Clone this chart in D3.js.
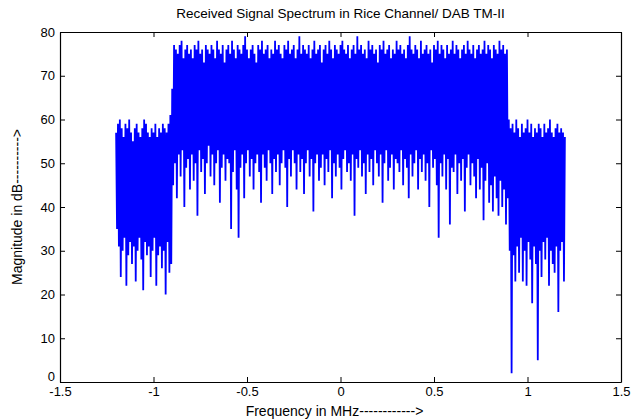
<!DOCTYPE html>
<html><head><meta charset="utf-8">
<script src="https://cdn.jsdelivr.net/npm/d3@7"></script>
<style>
html,body{margin:0;padding:0;background:#fff;}
svg text{font-family:"Liberation Sans",Arial,sans-serif;fill:#000;}
</style></head>
<body>
<svg id="chart" width="644" height="420"></svg>
<script>
// ---- data ----
const title = "Received Signal Spectrum in Rice Channel/ DAB TM-II";
const xLabel = "Frequency in MHz------------>";
const yLabel = "Magnitude in dB---------->";
const xTicks = [-1.5, -1, -0.5, 0, 0.5, 1, 1.5];
const xTickLabels = ["-1.5", "-1", "-0.5", "0", "0.5", "1", "1.5"];
const yTicks = [0, 10, 20, 30, 40, 50, 60, 70, 80];
const freqStart = -1.2;   // MHz, first FFT bin shown
const binStep = 0.005;    // MHz between successive samples
// local maxima of the spectrum (every other bin, starting at -1.2 MHz)
const peaks = [
 57,59,60,58,56,59,58,60,57,55,58,59,57,56,58,60,59,57,56,58,57,59,56,58,57,59,58,57,59,
 61,67,
 77,76,75,77,78,74,76,77,75,76,
 74,77,76,78,75,76,73,77,76,75,
 77,76,74,78,76,75,77,73,76,77,
 75,78,76,74,77,76,75,77,79,76,
 74,76,77,75,73,77,76,78,75,76,
 77,74,76,75,78,76,77,75,74,77,
 76,78,75,76,77,74,76,79,75,77,
 76,75,77,74,76,78,75,76,77,73,
 76,77,75,78,76,74,77,76,75,77,
 78,76,75,77,74,76,77,75,79,76,
 77,75,76,74,78,76,77,75,76,73,
 77,76,78,75,76,77,74,76,75,78,
 76,77,75,76,74,77,79,76,75,77,
 76,74,78,75,76,77,75,76,73,77,
 76,78,75,77,76,74,77,75,76,78,
 75,77,76,74,76,77,75,78,76,75,
 77,74,76,77,75,76,78,75,77,76,
 74,77,76,75,78,76,77,75,76,
 60,58,59,57,60,58,56,59,57,58,60,57,59,56,58,57,59,58,56,59,57,58,60,57,56,58,59,57,58,57,56
];
// local minima of the spectrum (the bins in between)
const troughs = [
 35,31,24,30,33,22,29,32,27,31,23,30,33,28,21,32,29,31,24,30,33,22,29,31,26,30,20,32,25,
 27,
 45,50,42,52,47,53,40,49,51,44,
 52,46,50,38,53,48,51,43,50,54,
 47,52,45,50,53,41,49,52,46,51,
 50,35,48,53,44,33,49,52,42,50,
 53,47,51,44,50,52,48,41,52,49,
 46,53,50,43,51,48,52,45,50,53,
 49,40,51,47,53,50,44,52,48,51,
 43,50,53,47,51,39,50,52,46,49,
 52,45,51,48,53,42,50,47,52,49,
 44,51,53,48,50,46,52,38,51,49,
 53,47,50,43,52,48,51,45,53,50,
 47,52,41,50,53,46,49,52,44,51,
 50,48,53,45,51,49,42,52,47,50,
 53,44,51,48,52,46,50,40,53,49,
 51,45,33,50,47,52,44,51,36,49,
 48,52,43,50,46,51,39,49,52,45,
 50,47,42,51,44,49,37,46,50,41,
 45,39,47,42,38,46,40,44,36,42,
 30,2,29,23,31,25,33,23,30,22,32,28,18,31,27,5,30,24,32,28,33,22,30,27,25,31,16,30,32,23
];

// ---- build sample list: peak, trough, peak, trough ... ----
const samples = [];
peaks.forEach((p, i) => {
  samples.push({f: freqStart + 2 * i * binStep, m: p});
  if (i < troughs.length) samples.push({f: freqStart + (2 * i + 1) * binStep, m: troughs[i]});
});

// ---- layout ----
const svg = d3.select("#chart");
const L = 60, R = 621, T = 32, B = 382;
const x = d3.scaleLinear().domain([-1.5, 1.5]).range([L, R]);
const y = d3.scaleLinear().domain([0, 80]).range([B, T]);

// data line
svg.append("path")
  .datum(samples)
  .attr("fill", "none")
  .attr("stroke", "#0000ff")
  .attr("stroke-width", 1.8)
  .attr("stroke-linejoin", "miter")
  .attr("d", d3.line().x(d => x(d.f)).y(d => y(d.m)));

// axes (MATLAB style: inward ticks, boxed)
const tl = 5;
const gx = svg.append("g").attr("transform", `translate(0,${B})`)
  .call(d3.axisBottom(x).tickValues(xTicks).tickSizeInner(-tl).tickSizeOuter(0)
        .tickPadding(5).tickFormat((d, i) => xTickLabels[i]));
const gxt = svg.append("g").attr("transform", `translate(0,${T})`)
  .call(d3.axisTop(x).tickValues(xTicks).tickSizeInner(-tl).tickSizeOuter(0).tickFormat(""));
const gy = svg.append("g").attr("transform", `translate(${L},0)`)
  .call(d3.axisLeft(y).tickValues(yTicks).tickSizeInner(-tl).tickSizeOuter(0).tickPadding(5));
const gyr = svg.append("g").attr("transform", `translate(${R},0)`)
  .call(d3.axisRight(y).tickValues(yTicks).tickSizeInner(-tl).tickSizeOuter(0).tickFormat(""));
[gx, gxt, gy, gyr].forEach(g => {
  g.select(".domain").attr("stroke", "#000").attr("stroke-width", 1.2);
  g.selectAll(".tick line").attr("stroke", "#000");
  g.selectAll("text").attr("font-size", 13).attr("font-family", "'Liberation Sans',Arial,sans-serif");
});
gx.selectAll("text").attr("dy", "0.7em");
gy.selectAll(".tick").filter(d => d === 0).select("text").attr("dy", "-0.1em");

// title and axis labels
svg.append("text").attr("x", (L + R) / 2).attr("y", 18)
  .attr("text-anchor", "middle").attr("font-size", 13.5).text(title);
svg.append("text").attr("x", (L + R) / 2 - 6).attr("y", 416)
  .attr("text-anchor", "middle").attr("font-size", 14).text(xLabel);
svg.append("text").attr("transform", `translate(22,${(T + B) / 2}) rotate(-90)`)
  .attr("text-anchor", "middle").attr("font-size", 14).text(yLabel);
</script>
</body></html>
